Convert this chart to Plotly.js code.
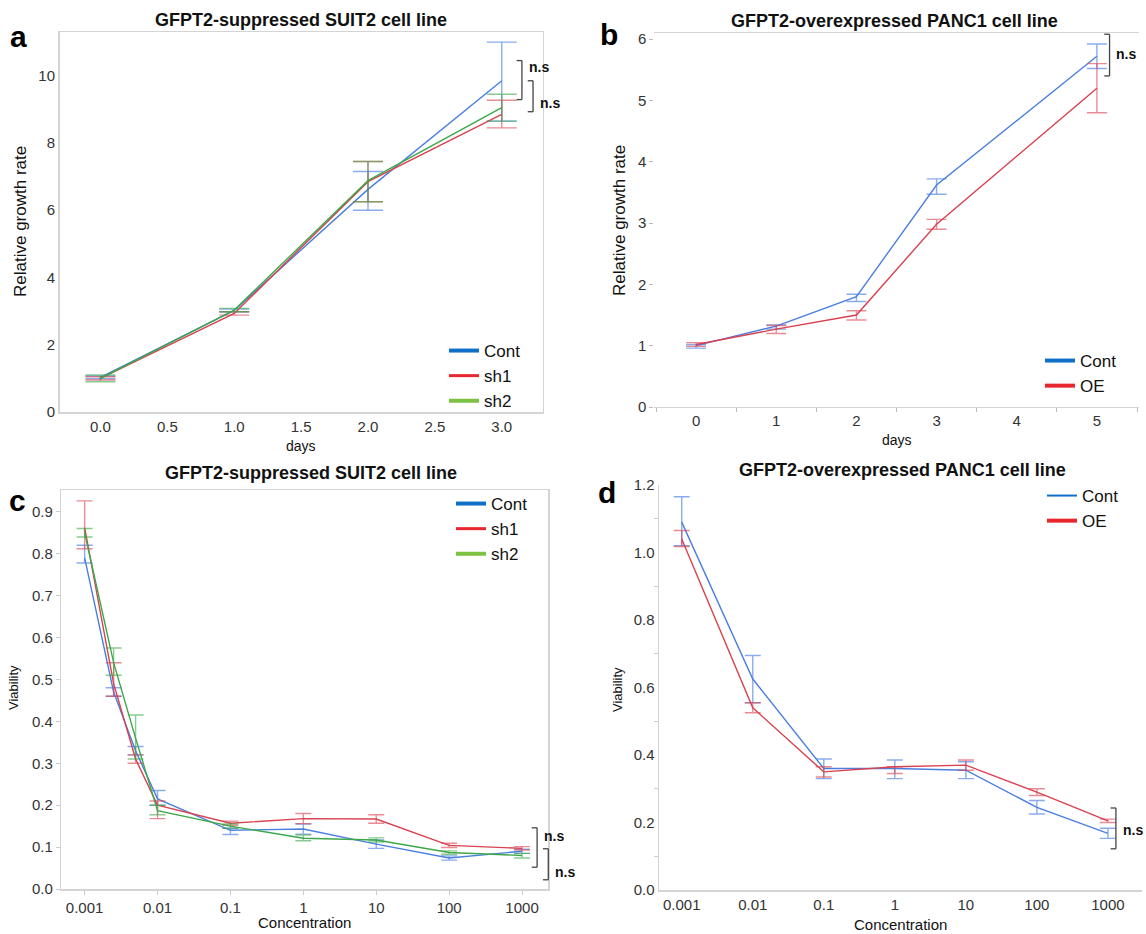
<!DOCTYPE html>
<html>
<head>
<meta charset="utf-8">
<script src="https://cdn.plot.ly/plotly-3.0.1.min.js"></script>
<style>
  html, body { margin: 0; padding: 0; background: #fff; }
  #chart { width: 1146px; height: 934px; }
</style>
</head>
<body>
<div id="chart"></div>
<script>
// ---------- Data ----------
// Panel a: GFPT2-suppressed SUIT2, growth
const daysA = [0, 1, 2, 3];
const aCont = [1.03, 3.02, 6.62, 9.85];
const aContPlus = [0.04, 0.04, 0.53, 1.15];
const aContMinus = [0.04, 0.04, 0.62, 1.2];
const aSh1 = [1.0, 2.93, 6.85, 8.85];
const aSh1Plus = [0.05, 0.05, 0.6, 0.42];
const aSh1Minus = [0.05, 0.05, 0.6, 0.4];
const aSh2 = [1.0, 3.03, 6.88, 9.05];
const aSh2Plus = [0.1, 0.05, 0.57, 0.4];
const aSh2Minus = [0.1, 0.05, 0.63, 0.4];

// Panel b: GFPT2-overexpressed PANC1, growth
const daysB = [0, 1, 2, 3, 5];
const bCont = [1.0, 1.32, 1.8, 3.62, 5.72];
const bContPlus = [0.02, 0.02, 0.04, 0.1, 0.2];
const bContMinus = [0.04, 0.05, 0.08, 0.15, 0.2];
const bOE = [1.02, 1.27, 1.5, 2.98, 5.2];
const bOEPlus = [0.03, 0.06, 0.07, 0.08, 0.4];
const bOEMinus = [0.03, 0.07, 0.08, 0.08, 0.4];

// Panel c: GFPT2-suppressed SUIT2, viability
const concC = [0.001, 0.0025, 0.005, 0.01, 0.1, 1, 10, 100, 1000];
const cCont = [0.79, 0.47, 0.33, 0.215, 0.14, 0.143, 0.107, 0.074, 0.09];
const cContPlus = [0.03, 0.01, 0.01, 0.02, 0.005, 0.012, 0.01, 0.005, 0.005];
const cContMinus = [0.012, 0.01, 0.01, 0.015, 0.01, 0.012, 0.01, 0.005, 0.005];
const cSh1 = [0.862, 0.49, 0.31, 0.2, 0.157, 0.168, 0.167, 0.104, 0.097];
const cSh1Plus = [0.064, 0.05, 0.01, 0.01, 0.005, 0.012, 0.01, 0.005, 0.004];
const cSh1Minus = [0.05, 0.03, 0.01, 0.032, 0.005, 0.012, 0.01, 0.005, 0.004];
const cSh2 = [0.85, 0.54, 0.36, 0.187, 0.15, 0.121, 0.117, 0.087, 0.08];
const cSh2Plus = [0.01, 0.035, 0.055, 0.013, 0.005, 0.008, 0.005, 0.004, 0.005];
const cSh2Minus = [0.01, 0.03, 0.05, 0.01, 0.005, 0.006, 0.005, 0.004, 0.006];

// Panel d: GFPT2-overexpressed PANC1, viability
const concD = [0.001, 0.01, 0.1, 1, 10, 100, 1000];
const dCont = [1.09, 0.625, 0.36, 0.36, 0.355, 0.245, 0.168];
const dContPlus = [0.075, 0.07, 0.028, 0.025, 0.025, 0.02, 0.015];
const dContMinus = [0.07, 0.07, 0.03, 0.03, 0.025, 0.02, 0.015];
const dOE = [1.04, 0.54, 0.35, 0.365, 0.37, 0.29, 0.205];
const dOEPlus = [0.025, 0.015, 0.015, 0.0, 0.015, 0.01, 0.005];
const dOEMinus = [0.022, 0.015, 0.015, 0.02, 0.015, 0.01, 0.005];

const concTicks = [0.001, 0.01, 0.1, 1, 10, 100, 1000];
const concTickText = ['0.001', '0.01', '0.1', '1', '10', '100', '1000'];

// ---------- Styling ----------
const W = 1146, H = 934;
const FONT = 'Liberation Sans, Arial, sans-serif';
const C = {
  blue: '#4a7fe0', red: '#d9414f', green: '#3da84a',
  blueErr: 'rgba(74,127,224,0.65)', redErr: 'rgba(217,65,79,0.6)', greenErr: 'rgba(61,168,74,0.6)',
  blueLeg: '#0f6fc6', redLeg: '#e8262e', greenLeg: '#7cc142'
};
const px = (x) => x / W;
const py = (y) => 1 - y / H;

// plot-area boxes in page pixels [left, right, top, bottom]
const boxA = [59.5, 542.7, 32, 412];
const boxB = [654.4, 1138.6, 33, 407];
const boxC = [61.3, 548.3, 490, 889];
const boxD = [659, 1142, 485, 890];

function series(x, y, plus, minus, color, errColor, xa, ya, capW) {
  return {
    x: x, y: y, xaxis: xa, yaxis: ya, type: 'scatter', mode: 'lines',
    line: { color: color, width: 1.4 }, showlegend: false, hoverinfo: 'x+y',
    error_y: { type: 'data', array: plus, arrayminus: minus, symmetric: false,
      color: errColor, thickness: 1.4, width: capW }
  };
}
function legItem(name, color, width, legend) {
  return { x: [null], y: [null], type: 'scatter', mode: 'lines', name: name,
    line: { color: color, width: width }, legend: legend, xaxis: 'x', yaxis: 'y' };
}

const traces = [
  series(daysA, aCont, aContPlus, aContMinus, C.blue, C.blueErr, 'x', 'y', 15),
  series(daysA, aSh1, aSh1Plus, aSh1Minus, C.red, C.redErr, 'x', 'y', 15),
  series(daysA, aSh2, aSh2Plus, aSh2Minus, C.green, C.greenErr, 'x', 'y', 15),
  series(daysB, bCont, bContPlus, bContMinus, C.blue, C.blueErr, 'x2', 'y2', 10),
  series(daysB, bOE, bOEPlus, bOEMinus, C.red, C.redErr, 'x2', 'y2', 10),
  series(concC, cCont, cContPlus, cContMinus, C.blue, C.blueErr, 'x3', 'y3', 8),
  series(concC, cSh1, cSh1Plus, cSh1Minus, C.red, C.redErr, 'x3', 'y3', 8),
  series(concC, cSh2, cSh2Plus, cSh2Minus, C.green, C.greenErr, 'x3', 'y3', 8),
  series(concD, dCont, dContPlus, dContMinus, C.blue, C.blueErr, 'x4', 'y4', 8),
  series(concD, dOE, dOEPlus, dOEMinus, C.red, C.redErr, 'x4', 'y4', 8),
  legItem('Cont', C.blueLeg, 4, 'legend'),
  legItem('sh1', C.redLeg, 3, 'legend'),
  legItem('sh2', C.greenLeg, 4, 'legend'),
  legItem('Cont', C.blueLeg, 4, 'legend2'),
  legItem('OE', C.redLeg, 4, 'legend2'),
  legItem('Cont', C.blueLeg, 4, 'legend3'),
  legItem('sh1', C.redLeg, 3, 'legend3'),
  legItem('sh2', C.greenLeg, 4, 'legend3'),
  legItem('Cont', C.blueLeg, 2, 'legend4'),
  legItem('OE', C.redLeg, 4, 'legend4')
];

const tickFont = { family: FONT, size: 15, color: '#333' };
const frame = '#d4d4d4';

function legendBox(x, y) {
  return { x: px(x), y: py(y), xanchor: 'left', yanchor: 'top', xref: 'paper', yref: 'paper',
    bgcolor: 'rgba(0,0,0,0)', font: { family: FONT, size: 17, color: '#111' },
    itemwidth: 30, tracegroupgap: 0 };
}
const dom = (b) => ({ x: [px(b[0]), px(b[1])], y: [py(b[3]), py(b[2])] });
const dA = dom(boxA), dB = dom(boxB), dC = dom(boxC), dD = dom(boxD);

const layout = {
  width: W, height: H,
  margin: { l: 0, r: 0, t: 0, b: 0 },
  paper_bgcolor: '#fff', plot_bgcolor: '#fff',
  font: { family: FONT, color: '#222' },
  showlegend: true,
  xaxis: { domain: dA.x, anchor: 'y', range: [-0.306, 3.306], dtick: 0.5, tick0: 0,
    tickformat: '.1f', showline: true, mirror: true, linecolor: frame, linewidth: 1.5,
    showgrid: false, zeroline: false, ticks: '', tickfont: tickFont },
  yaxis: { domain: dA.y, anchor: 'x', range: [0, 11.3], dtick: 2, tick0: 0,
    showline: true, mirror: true, linecolor: frame, linewidth: 1.5,
    showgrid: false, zeroline: false, ticks: '', tickfont: tickFont },
  xaxis2: { domain: dB.x, anchor: 'y2', range: [-0.52, 5.52], dtick: 1, tick0: 0,
    showline: true, mirror: true, linecolor: frame, linewidth: 1.2,
    showgrid: false, zeroline: false, ticks: '', tickfont: tickFont,
    minor: { dtick: 0.5, tick0: 0.5, ticks: 'outside', ticklen: 4, tickcolor: '#bbb' } },
  yaxis2: { domain: dB.y, anchor: 'x2', range: [0, 6.1], dtick: 1, tick0: 0,
    showline: false, showgrid: false, zeroline: false, ticks: 'outside', ticklen: 4, tickcolor: '#bbb',
    tickfont: tickFont },
  xaxis3: { domain: dC.x, anchor: 'y3', type: 'log', range: [-3.32, 3.36],
    tickvals: concTicks, ticktext: concTickText, showline: true, mirror: true, linecolor: frame,
    linewidth: 1.5, showgrid: false, zeroline: false, ticks: 'outside', ticklen: 4, tickcolor: '#ccc',
    tickfont: tickFont },
  yaxis3: { domain: dC.y, anchor: 'x3', range: [0, 0.952], dtick: 0.1, tick0: 0,
    tickformat: '.1f', showline: true, mirror: true, linecolor: frame, linewidth: 1.5,
    showgrid: false, zeroline: false, ticks: 'outside', ticklen: 4, tickcolor: '#ccc', tickfont: tickFont },
  xaxis4: { domain: dD.x, anchor: 'y4', type: 'log', range: [-3.32, 3.48],
    tickvals: concTicks, ticktext: concTickText, showline: true, linecolor: frame, linewidth: 1.5,
    showgrid: false, zeroline: false, ticks: '', tickfont: tickFont },
  yaxis4: { domain: dD.y, anchor: 'x4', range: [0, 1.2], dtick: 0.2, tick0: 0,
    tickformat: '.1f', showline: true, linecolor: frame, linewidth: 1.5,
    showgrid: false, zeroline: false, ticks: '', tickfont: tickFont,
    minor: { dtick: 0.1, ticks: 'outside', ticklen: 4, tickcolor: '#ccc' } },
  legend: legendBox(444, 333),
  legend2: legendBox(1040, 343),
  legend3: legendBox(451, 486),
  legend4: legendBox(1042, 478),
  shapes: [],
  annotations: []
};

// Titles, panel letters, axis titles
const ann = layout.annotations;
function txt(text, x, y, size, opts) {
  ann.push(Object.assign({ text: text, x: px(x), y: py(y), xref: 'paper', yref: 'paper',
    showarrow: false, xanchor: 'center', yanchor: 'middle',
    font: { family: FONT, size: size, color: '#111' } }, opts || {}));
}
const midX = (b) => (b[0] + b[1]) / 2;
const midY = (b) => (b[2] + b[3]) / 2;
const letterFont = { family: FONT, size: 30, color: '#000' };
txt('<b>GFPT2-suppressed SUIT2 cell line</b>', midX(boxA), 20, 18);
txt('<b>GFPT2-overexpressed PANC1 cell line</b>', midX(boxB) - 2, 21, 18);
txt('<b>GFPT2-suppressed SUIT2 cell line</b>', midX(boxC) + 6, 473, 18);
txt('<b>GFPT2-overexpressed PANC1 cell line</b>', midX(boxD) + 2, 470, 18);
txt('<b>a</b>', 18, 37, 30, { font: letterFont });
txt('<b>b</b>', 609, 35, 30, { font: letterFont });
txt('<b>c</b>', 17, 500, 30, { font: letterFont });
txt('<b>d</b>', 607, 492, 30, { font: letterFont });
txt('Relative growth rate', 20, midY(boxA), 17, { textangle: -90 });
txt('days', midX(boxA), 446, 14);
txt('Relative growth rate', 619, midY(boxB), 17, { textangle: -90 });
txt('days', midX(boxB), 440, 14);
txt('Viability', 13, 688, 13, { textangle: -90 });
txt('Concentration', midX(boxC), 922, 15);
txt('Viability', 617, 690, 13, { textangle: -90 });
txt('Concentration', midX(boxD), 924, 15);

// Significance brackets (x in axis-domain units, y in data units)
function bracket(xa, ya, xd, y0, y1, label, labelY) {
  const ln = { color: '#444', width: 1.3 };
  const base = { type: 'line', xref: xa + ' domain', yref: ya, layer: 'above', line: ln };
  layout.shapes.push(Object.assign({}, base, { x0: xd, x1: xd, y0: y0, y1: y1 }));
  layout.shapes.push(Object.assign({}, base, { x0: xd - 0.011, x1: xd, y0: y0, y1: y0 }));
  layout.shapes.push(Object.assign({}, base, { x0: xd - 0.011, x1: xd, y0: y1, y1: y1 }));
  ann.push({ text: '<b>' + label + '</b>', xref: xa + ' domain', yref: ya, x: xd + 0.01, y: labelY,
    xanchor: 'left', yanchor: 'middle', showarrow: false,
    font: { family: FONT, size: 14, color: '#111' } });
}
bracket('x', 'y', 0.957, 10.45, 9.29, 'n.s', 10.25);
bracket('x', 'y', 0.98, 9.85, 8.93, 'n.s', 9.2);
bracket('x2', 'y2', 0.94, 6.08, 5.4, 'n.s', 5.75);
bracket('x3', 'y3', 0.977, 0.146, 0.052, 'n.s', 0.127);
bracket('x3', 'y3', 1.0, 0.096, 0.022, 'n.s', 0.041);
bracket('x4', 'y4', 0.946, 0.243, 0.122, 'n.s', 0.178);

Plotly.newPlot('chart', traces, layout, { staticPlot: true, displayModeBar: false });
</script>
</body>
</html>
